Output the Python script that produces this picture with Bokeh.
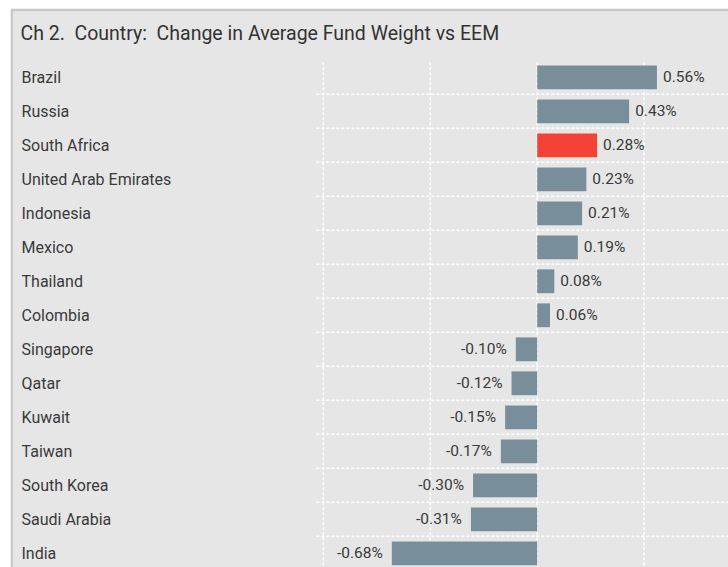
from bokeh.plotting import figure
from bokeh.models import ColumnDataSource, Range1d
from bokeh.embed import file_html
from bokeh.resources import INLINE
from bokeh.core.properties import value

# ---- data ----
countries = ["Brazil", "Russia", "South Africa", "United Arab Emirates", "Indonesia",
             "Mexico", "Thailand", "Colombia", "Singapore", "Qatar", "Kuwait",
             "Taiwan", "South Korea", "Saudi Arabia", "India"]
changes = [0.56, 0.43, 0.28, 0.23, 0.21, 0.19, 0.08, 0.06,
           -0.10, -0.12, -0.15, -0.17, -0.30, -0.31, -0.68]
highlight = "South Africa"
x_ticks = [-1.0, -0.5, 0.0, 0.5, 1.0]
title_text = "Ch 2.\u00a0 Country:\u00a0 Change in Average Fund Weight vs EEM"

BAR = "#788f9b"
RED = "#f44336"
TXT = "#3a3a3a"
FONT = value("Roboto")

n = len(countries)
rows = list(range(n))
src = ColumnDataSource(dict(
    row=rows,
    country=countries,
    change=changes,
    label=[f"{c:.2f}%" for c in changes],
    color=[RED if c == highlight else BAR for c in countries],
    off=[6 if v >= 0 else -9 for v in changes],
    align=["left" if v >= 0 else "right" for v in changes],
))

p = figure(width=718, height=559, output_backend="svg", toolbar_location=None,
           x_axis_location=None, y_axis_location=None,
           x_range=Range1d(-2.4495, 0.8948), y_range=Range1d(14.418, -1.935),
           min_border_left=3, min_border_top=3, min_border_right=0, min_border_bottom=0,
           background_fill_color="#e6e6e6", border_fill_color="#c8c8c8",
           outline_line_color=None)
p.margin = (8, 0, 0, 10)
p.xgrid.visible = False
p.ygrid.visible = False

# grid lines (white dashed) restricted to plot area
grid_left = -1.033
grid_right = 0.8948
grid_top = -0.44
grid_bottom = 14.418
p.segment(x0=x_ticks, x1=x_ticks, y0=[grid_top] * len(x_ticks), y1=[grid_bottom] * len(x_ticks),
          line_color="white", line_width=1.5, line_dash="3 2")
hy = [r + 0.5 for r in rows]
p.segment(x0=[grid_left] * n, x1=[grid_right] * n, y0=hy, y1=hy,
          line_color="white", line_width=1.5, line_dash="3 2")

# bars
p.hbar(y="row", left=0, right="change", height=0.7, fill_color="color",
       line_color=None, source=src)

# value labels
p.text(x="change", y="row", text="label", x_offset="off", text_align="align",
       text_baseline="middle", text_font=FONT, text_font_size="15.5px",
       text_color=TXT, source=src)

# category labels
p.text(x=-2.412, y="row", text="country", text_align="left", text_baseline="middle",
       text_font=FONT, text_font_size="16px", text_color=TXT, source=src)

# title
p.text(x=[-2.417], y=[-1.29], text=[title_text], text_align="left", text_baseline="middle",
       text_font=FONT, text_font_size="19.5px", text_color="#333333")

open("out.html", "w").write(file_html(p, INLINE))
